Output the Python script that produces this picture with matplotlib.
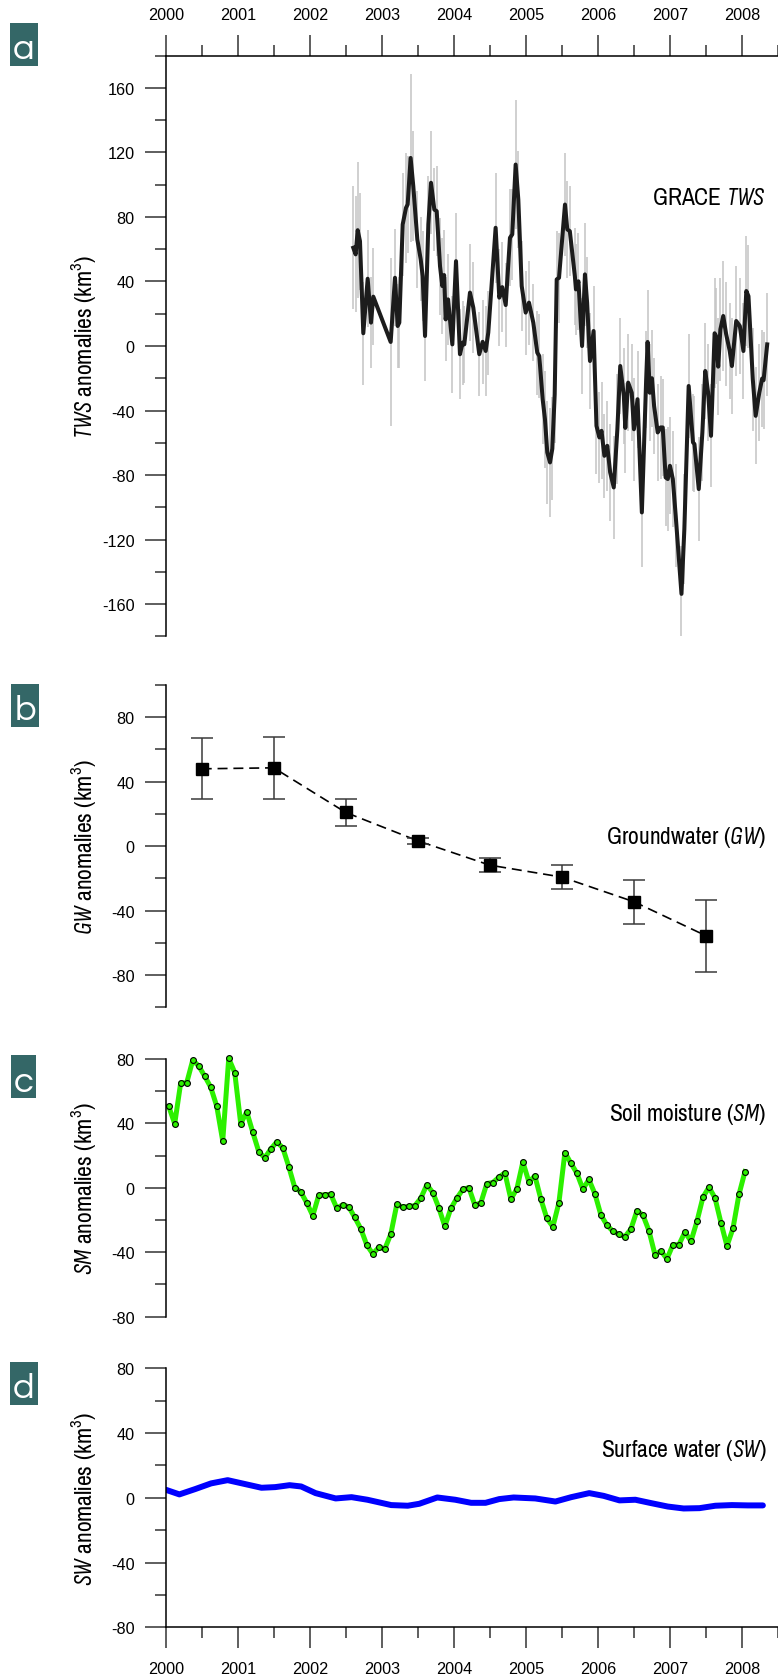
import matplotlib
matplotlib.use('Agg')
import matplotlib.pyplot as plt
import matplotlib.font_manager as fm
from matplotlib.patches import Rectangle
from matplotlib.ticker import MultipleLocator
import numpy as np

# ---- data ----
tws_year = [2002.604, 2002.637, 2002.665, 2002.697, 2002.743, 2002.804, 2002.85, 2002.882,
            2003.123, 2003.183, 2003.22, 2003.243, 2003.29, 2003.336, 2003.359, 2003.40, 2003.437, 2003.493,
            2003.54, 2003.567, 2003.60, 2003.646, 2003.683, 2003.729, 2003.762, 2003.808, 2003.84, 2003.865,
            2003.887, 2003.92, 2003.979,
            2004.03, 2004.085, 2004.122, 2004.145, 2004.224, 2004.27, 2004.353, 2004.40, 2004.442, 2004.478,
            2004.58, 2004.631, 2004.672, 2004.72, 2004.779, 2004.811, 2004.858, 2004.895, 2004.942, 2004.997,
            2005.043, 2005.103, 2005.158, 2005.186, 2005.233, 2005.265, 2005.297, 2005.335, 2005.367, 2005.40,
            2005.428, 2005.46, 2005.543, 2005.575, 2005.61, 2005.68, 2005.695, 2005.73, 2005.78, 2005.82,
            2005.85, 2005.89, 2005.94, 2005.98,
            2006.02, 2006.05, 2006.09, 2006.13, 2006.17, 2006.22, 2006.27, 2006.31, 2006.36, 2006.38,
            2006.42, 2006.47, 2006.50, 2006.55, 2006.61, 2006.67, 2006.69, 2006.72, 2006.75, 2006.78,
            2006.83, 2006.87, 2006.90, 2006.94, 2006.97,
            2007.00, 2007.04, 2007.08, 2007.16, 2007.20, 2007.26, 2007.32, 2007.34, 2007.40, 2007.45,
            2007.49, 2007.53, 2007.57, 2007.62, 2007.64, 2007.67, 2007.70, 2007.74, 2007.78, 2007.83,
            2007.86, 2007.92, 2007.97,
            2008.02, 2008.06, 2008.09, 2008.15, 2008.19, 2008.24, 2008.28, 2008.30, 2008.35]
tws = [60.9, 56.8, 71.8, 65.0, 7.9, 41.7, 14.5, 30.6,
       2.5, 42.3, 12.4, 14.5, 75.4, 85.7, 87.8, 116.6, 99.1, 66.1, 53.7, 43.3, 6.2, 75.4, 101.2, 84.6,
       83.6, 49.5, 37.2, 44.0, 16.5, 28.9, 1.0,
       52.6, -5.1, 2.1, 1.0, 33.1, 23.8, -5.1, 2.6, -3.1, 8.3, 73.3, 30.0, 36.5, 25.4, 67.1, 69.2,
       112.5, 90.8, 37.2, 20.7,
       26.9, 14.5, -4.1, -6.2, -33.0, -45.4, -66.0, -72.2, -63.7, -30.0, 41.3, 42.3, 87.7, 72.3, 71.2,
       43.3, 35.1, 40.1, 0.0, 44.4, 26.9, -9.3, 9.3, -49.5,
       -56.7, -52.6, -68.1, -61.9, -78.4, -87.7, -51.6, -12.4, -31.0, -50.8, -22.7, -29.0, -51.6,
       -33.0, -103.2, -20.6, 2.5, -29.0, -20.0, -37.2, -53.6, -50.5, -50.5, -81.5, -82.5,
       -74.3, -82.5, -105.3, -153.7, -113.5, -24.8, -59.8, -60.8, -88.7, -53.6, -15.5, -28.9, -55.7,
       7.9, 6.2, -12.8, 10.3, 18.6, 7.4, -3.1, -12.4, 15.5, 12.4,
       -3.1, 34.1, 30.9, -20.6, -43.3, -29.0, -20.2, -21.2, 1.0]
tws_err = [38, 36, 42, 30, 32, 30, 28, 30,
           52, 30, 26, 28, 32, 34, 30, 52, 34, 30, 26, 28, 28, 30, 32, 26, 28, 30, 30, 28, 26, 28, 30,
           30, 28, 26, 24, 30, 28, 26, 26, 28, 26, 34, 30, 28, 26, 30, 28, 40, 30, 28, 26,
           26, 24, 26, 26, 28, 30, 32, 34, 32, 30, 30, 28, 32, 30, 28, 30, 28, 30, 30, 32, 28, 30, 28, 30,
           28, 30, 26, 28, 30, 32, 34, 30, 30, 28, 30, 30, 32, 30, 34, 30, 32, 30, 30, 30, 30, 32, 30, 30, 32,
           30, 30, 32, 30, 34, 32, 30, 30, 32, 30, 30, 30, 32, 34, 30, 30, 32, 34, 32, 30, 30, 34, 30,
           30, 34, 32, 32, 30, 30, 30, 30, 32]

gw_year = [2000.5, 2001.5, 2002.5, 2003.5, 2004.5, 2005.5, 2006.5, 2007.5]
gw = [48.0, 48.6, 20.9, 3.3, -11.8, -19.2, -34.5, -55.6]
gw_err = [19.0, 19.2, 8.5, 2.0, 4.5, 7.5, 13.8, 22.2]

sm = [50.7, 39.8, 65.2, 65.2, 79.2, 75.7, 69.3, 62.5, 50.7, 29.1, 80.4, 71.6,
      39.8, 47.2, 34.6, 22.5, 18.6, 24.1, 28.5, 24.9, 13.2, 0.2, -2.5, -9.3,
      -17.3, -4.5, -4.3, -4.1, -12.6, -10.5, -11.8, -18.4, -25.4, -35.5, -41.0, -36.9,
      -37.9, -28.7, -10.3, -12.0, -11.5, -11.1, -6.4, 1.9, -2.9, -12.4, -23.9, -12.8,
      -6.4, -1.0, 0.2, -10.7, -9.3, 2.7, 3.3, 6.6, 9.3, -7.0, -0.6, 16.1,
      3.7, 7.4, -7.0, -19.0, -24.1, -9.3, 21.9, 15.3, 9.1, -0.8, 5.2, -3.7,
      -16.9, -23.1, -27.0, -28.9, -30.3, -25.6, -14.2, -16.9, -26.6, -41.4, -39.2, -44.1,
      -35.3, -35.3, -27.4, -33.2, -20.8, -5.8, 0.4, -6.2, -21.7, -36.1, -25.2, -4.1,
      10.1]
sm_year = 2000 + (np.arange(len(sm)) + 0.5) / 12.0   # monthly values from Jan 2000

sw_year = [2000.006, 2000.19, 2000.41, 2000.63, 2000.86, 2001.08, 2001.33, 2001.52, 2001.72, 2001.88,
           2002.08, 2002.36, 2002.58, 2002.80, 2003.13, 2003.36, 2003.52, 2003.77, 2004.02, 2004.24,
           2004.44, 2004.63, 2004.83, 2005.13, 2005.41, 2005.63, 2005.88, 2006.08, 2006.30, 2006.52,
           2006.74, 2006.97, 2007.19, 2007.41, 2007.63, 2007.86, 2008.08, 2008.29]
sw = [4.9, 2.1, 5.4, 8.9, 10.9, 8.7, 6.2, 6.6, 7.8, 7.0,
      2.9, -0.4, 0.4, -1.2, -4.5, -4.9, -3.7, 0.2, -1.2, -3.1,
      -3.1, -0.8, 0.2, -0.4, -2.3, 0.4, 2.9, 1.2, -1.6, -1.2,
      -3.3, -5.4, -6.6, -6.4, -4.9, -4.5, -4.7, -4.7]

year_ticks = [2000, 2001, 2002, 2003, 2004, 2005, 2006, 2007, 2008]
half_ticks = [2000.5, 2001.5, 2002.5, 2003.5, 2004.5, 2005.5, 2006.5, 2007.5, 2008.5]

# ---- fonts ----
ttf = fm.fontManager.ttflist
names = {f.name for f in ttf}


def pick(cands, default, italic=False):
    for c in cands:
        if c in names and (not italic or any(f.name == c and f.style == 'italic' for f in ttf)):
            return c
    return default


narrow = pick(['Liberation Sans Narrow', 'Pragati Narrow', 'Sofia Sans Condensed', 'Barlow Condensed',
               'Roboto Condensed'], 'Liberation Sans')
narrow_it = pick([narrow, 'Sofia Sans Condensed', 'Barlow Condensed', 'Fira Sans Extra Condensed',
                  'Roboto Condensed'], 'Liberation Sans', italic=True)
tagfont = pick(['Questrial', 'Didact Gothic'], 'DejaVu Sans')

plt.rcParams['font.family'] = 'Liberation Sans'
plt.rcParams['axes.unicode_minus'] = False
plt.rcParams['mathtext.fontset'] = 'custom'
plt.rcParams['mathtext.rm'] = narrow
plt.rcParams['mathtext.it'] = narrow_it + ':italic'

W, H = 778, 1681
fig = plt.figure(figsize=(W / 100, H / 100), dpi=100)

# size the condensed labels so "GW anomalies (km3)" is about as long as in the original
probe = fig.text(0, 0, r'$\mathit{GW}$ anomalies (km$^3$)', family=narrow, fontsize=20)
pw = probe.get_window_extent(fig.canvas.get_renderer()).width
probe.remove()
LBL = float(np.clip(20 * 176 / pw, 16, 20.5))

TICK = '#333333'


def panel(top, bottom, ylo, yhi):
    ax = fig.add_axes([165.7 / W, 1 - bottom / H, 612.3 / W, (bottom - top) / H])
    ax.set_xlim(2000, 2008.5)
    ax.set_ylim(ylo, yhi)
    for s in ['right', 'bottom', 'top']:
        ax.spines[s].set_visible(False)
    ax.spines['left'].set_linewidth(1.1)
    ax.yaxis.set_major_locator(MultipleLocator(40))
    ax.yaxis.set_minor_locator(MultipleLocator(20))
    ax.tick_params(axis='y', which='major', length=15, width=1.1, pad=7.5, labelsize=11.7, color=TICK)
    ax.tick_params(axis='y', which='minor', length=7.8, width=1.1, color=TICK)
    ax.set_xticks([])
    ax.yaxis.set_label_coords(-0.111, 0.5)
    return ax


def year_axis(ax, where):
    ax.spines[where].set_visible(True)
    ax.spines[where].set_linewidth(1.1)
    ax.set_xticks(year_ticks, labels=[str(y) for y in year_ticks])
    ax.set_xticks(half_ticks, minor=True)
    ax.xaxis.set_ticks_position(where)
    ax.tick_params(axis='x', which='major', length=15, width=1.1, pad=9, labelsize=11.7, color=TICK)
    ax.tick_params(axis='x', which='minor', length=7.8, width=1.1, color=TICK)


def tag(letter, x0, x1, y0, y1):
    fig.add_artist(Rectangle((x0 / W, 1 - y1 / H), (x1 - x0) / W, (y1 - y0) / H,
                             transform=fig.transFigure, color='#346767', lw=0))
    fig.text((x0 + x1) / 2 / W, 1 - (y1 - 7.5) / H, letter, color='white', fontsize=26,
             family=tagfont, ha='center', va='baseline')


# a: GRACE TWS
ax = panel(56.7, 637.3, -180, 180)
year_axis(ax, 'top')
ax.errorbar(tws_year, tws, yerr=tws_err, fmt='none', ecolor='#c4c4c4', elinewidth=1.1, zorder=1)
ax.plot(tws_year, tws, color='#1c1c1c', lw=2.9, solid_joinstyle='round', zorder=2)
ax.set_ylabel(r'$\mathit{TWS}$ anomalies (km$^3$)', family=narrow, fontsize=LBL)
ax.text(2008.34, 92, r'GRACE $\mathit{TWS}$', family=narrow, fontsize=LBL, ha='right', va='center')
tag('a', 10, 37.7, 24, 66.7)

# b: groundwater
ax = panel(686, 1008.3, -100, 100)
ax.plot(gw_year, gw, color='black', lw=1.2, ls=(0, (6, 3.5)), zorder=1)
ax.errorbar(gw_year, gw, yerr=gw_err, fmt='none', ecolor='#3a3a3a', elinewidth=1.1,
            capsize=7.8, capthick=1.1, zorder=2)
ax.plot(gw_year, gw, 's', ms=8, color='black', zorder=3)
ax.set_ylabel(r'$\mathit{GW}$ anomalies (km$^3$)', family=narrow, fontsize=LBL)
ax.text(2008.33, 6, r'Groundwater ($\mathit{GW}$)', family=narrow, fontsize=LBL, ha='right', va='center')
tag('b', 11, 39, 685, 727.7)

# c: soil moisture
ax = panel(1060, 1317.7, -80, 80)
ax.plot(sm_year, sm, color='#2cf000', lw=3.6, marker='o', ms=4.2, mfc='#2cf000', mec='black', mew=0.8,
        solid_joinstyle='round', clip_on=False)
ax.set_ylabel(r'$\mathit{SM}$ anomalies (km$^3$)', family=narrow, fontsize=LBL)
ax.text(2008.33, 46, r'Soil moisture ($\mathit{SM}$)', family=narrow, fontsize=LBL, ha='right', va='center')
tag('c', 11, 36, 1056, 1099)

# d: surface water
ax = panel(1369.3, 1628.3, -80, 80)
year_axis(ax, 'bottom')
ax.plot(sw_year, sw, color='#0000ff', lw=4.3, solid_capstyle='round', solid_joinstyle='round')
ax.set_ylabel(r'$\mathit{SW}$ anomalies (km$^3$)', family=narrow, fontsize=LBL)
ax.text(2008.35, 30, r'Surface water ($\mathit{SW}$)', family=narrow, fontsize=LBL, ha='right', va='center')
tag('d', 10, 38, 1363.3, 1406)

fig.savefig('out.png', dpi=100)
